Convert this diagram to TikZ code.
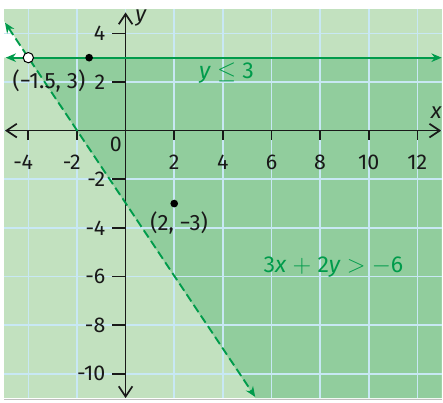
\documentclass[tikz,border=0pt]{standalone}
\usepackage{fontspec}
\setmainfont{Fira Sans}
\usepackage{xcolor}
\definecolor{lightbg}{RGB}{194,225,191}
\definecolor{darkbg}{RGB}{145,205,157}
\definecolor{gridblue}{RGB}{200,232,244}
\definecolor{linegreen}{RGB}{0,155,75}
\usetikzlibrary{arrows.meta}
\tikzset{
  axisline/.style={line width=1pt,draw=black!90,
    {Straight Barb[length=6pt,width=8pt]}-{Straight Barb[length=6pt,width=8pt]}},
  boundary/.style={line width=1.1pt,draw=linegreen,
    {Stealth[length=6pt,width=5pt]}-{Stealth[length=6pt,width=5pt]}},
  ticklbl/.style={font=\fontsize{12.5}{14}\selectfont,text=black!90,inner sep=1pt},
  ineqlbl/.style={font=\fontsize{13.5}{15}\selectfont,text=linegreen,inner sep=1pt},
  ptlbl/.style={font=\fontsize{13}{15}\selectfont,text=black!90,inner sep=1pt},
  dotpt/.style={circle,fill=black,inner sep=0pt,minimum size=4.5pt},
  holept/.style={circle,draw=black,fill=white,line width=0.6pt,
    inner sep=0pt,minimum size=6pt},
}

\begin{document}
\begin{tikzpicture}[x=0.5cm,y=0.5cm]
  \useasboundingbox (-5.165,-11.198) rectangle (13.054,5.372);

  % shaded regions
  \fill[lightbg] (-5,-11) rectangle (13,5);
  \fill[darkbg] (-4,3) -- (13,3) -- (13,-11) -- (16/3,-11) -- cycle;
  \fill[white] (-5,3) -- (-4,3) -- (-5,4.5) -- cycle;
  \draw[gridblue,line width=0.9pt] (-5,-11) grid (13,5);
  \draw[black!25,line width=0.8pt] (-5,-11.05) -- (13,-11.05);

  % axes
  \coordinate (xl) at (-4.96,0);
  \coordinate (xr) at (12.98,0);
  \coordinate (yb) at (0,-11);
  \coordinate (yt) at (0,4.86);
  \draw[axisline] (xl) -- (xr);
  \draw[axisline] (yb) -- (yt);
  \node (xlbl) [ticklbl,font=\fontsize{13}{15}\selectfont\itshape] at (12.77,0.72) {x};
  \node (ylbl) [ticklbl,font=\fontsize{13}{15}\selectfont\itshape] at (0.62,4.62) {y};
  \node (orig) [ticklbl] at (-0.4,-0.55) {0};

  \foreach \xv in {-4,-2,2,4,6,8,10,12} {
    \draw[line width=1pt,black!90] (\xv,0) -- (\xv,-0.4);
  }
  \foreach \xv in {-4,-2} {
    \node (xt\xv) [ticklbl,xshift=-3pt] at (\xv,-1.3) {\xv};
  }
  \foreach \xv in {2,4,6,8,10,12} {
    \node (xt\xv) [ticklbl] at (\xv,-1.3) {\xv};
  }
  \foreach \yv in {-10,-8,-6,-4,-2,2,4} {
    \draw[line width=1pt,black!90] (0,\yv) -- (-0.55,\yv);
    \node (yt\yv) [ticklbl,anchor=east] at (-0.75,\yv) {\yv};
  }

  % boundary lines
  \coordinate (hl) at (-4.93,3);
  \coordinate (hr) at (13.0,3);
  \coordinate (dl) at (-4.96,4.44);
  \coordinate (dr) at (5.33,-10.95);
  \draw[boundary] (hl) -- (hr);
  \draw[boundary,dash pattern=on 5pt off 2.5pt] (dl) -- (dr);

  % points
  \node (hole) [holept] at (-4,3) {};
  \node (pa) [dotpt] at (-1.5,3) {};
  \node (pb) [dotpt] at (2,-3) {};
  \node (palbl) [ptlbl] at (-3.15,2.05) {(−1.5, 3)};
  \node (pblbl) [ptlbl] at (2.2,-3.8) {(2, −3)};

  % inequalities
  \node (ineq1) [ineqlbl] at (4.15,2.38) {\textit{y} $\leq$ 3};
  \node (ineq2) [ineqlbl] at (8.55,-5.6)
    {3\textit{x} $+$ 2\textit{y} $>$ $-$6};
\end{tikzpicture}
\end{document}
